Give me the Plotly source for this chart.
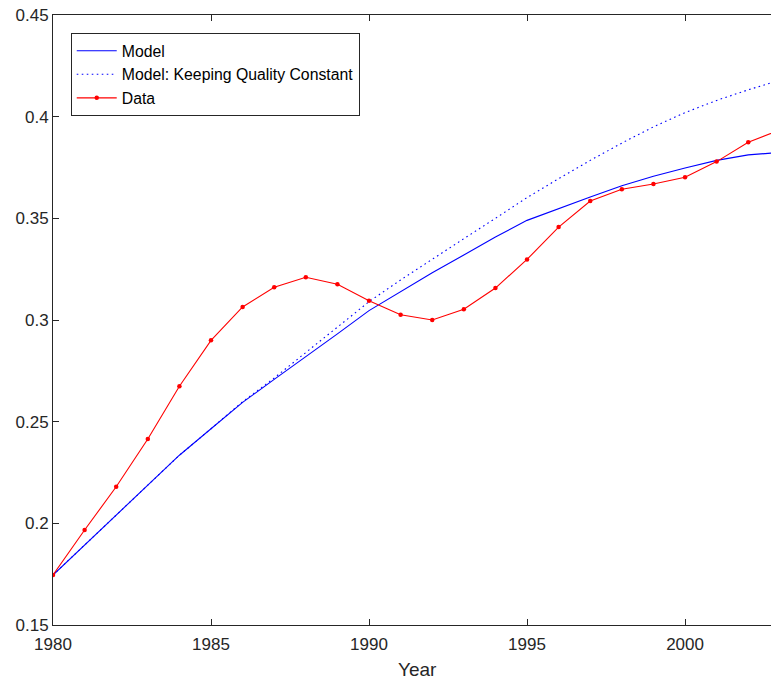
import plotly.graph_objects as go

years = list(range(1980, 2004))

data_vals = [0.1746, 0.1967, 0.2180, 0.2415, 0.2674, 0.2900, 0.3064, 0.3161,
             0.3210, 0.3176, 0.3095, 0.3026, 0.3000, 0.3053, 0.3157, 0.3298,
             0.3457, 0.3585, 0.3643, 0.3669, 0.3702, 0.3779, 0.3874, 0.3935]

model_vals = [0.1746, 0.1892, 0.2040, 0.2187, 0.2335, 0.2465, 0.2595, 0.2708,
              0.2818, 0.2932, 0.3046, 0.3141, 0.3232, 0.3320, 0.3408, 0.3490,
              0.3548, 0.3605, 0.3660, 0.3707, 0.3748, 0.3785, 0.3812, 0.3824]

const_vals = [0.1746, 0.1892, 0.2040, 0.2187, 0.2335, 0.2465, 0.2598, 0.2715,
              0.2840, 0.2966, 0.3090, 0.3197, 0.3300, 0.3400, 0.3500, 0.3602,
              0.3695, 0.3785, 0.3870, 0.3950, 0.4020, 0.4080, 0.4132, 0.4180]

x_ticks = [1980, 1985, 1990, 1995, 2000]
y_ticks = [0.15, 0.2, 0.25, 0.3, 0.35, 0.4, 0.45]
y_tick_text = ["0.15", "0.2", "0.25", "0.3", "0.35", "0.4", "0.45"]

W, H = 771, 680
ML, MT, MB, MR = 53, 15, 55, 0
axis_col = "#262626"
font_fam = "Liberation Sans, Arial, sans-serif"

fig = go.Figure()
fig.add_trace(go.Scatter(x=years, y=model_vals, mode="lines", name="Model",
                         line=dict(color="#0000ff", width=1.1)))
fig.add_trace(go.Scatter(x=years, y=const_vals, mode="lines",
                         name="Model: Keeping Quality Constant",
                         line=dict(color="#0000ff", width=1.1, dash="1.6px,3.4px")))
fig.add_trace(go.Scatter(x=years, y=data_vals, mode="lines+markers", name="Data",
                         line=dict(color="#ff0000", width=1.1),
                         marker=dict(color="#ff0000", size=4.5), cliponaxis=True))

fig.update_layout(
    width=W, height=H,
    margin=dict(l=ML, r=MR, t=MT, b=MB, pad=0, autoexpand=False),
    paper_bgcolor="white", plot_bgcolor="white",
    font=dict(family=font_fam, size=17, color=axis_col),
    showlegend=True,
    legend=dict(x=0.0247, y=0.9705, xanchor="left", yanchor="top",
                bgcolor="white", bordercolor="#262626", borderwidth=1,
                font=dict(family=font_fam, size=15.8, color="#000000"),
                tracegroupgap=0, itemwidth=40),
    xaxis=dict(range=[1980, 2002.72], tickvals=x_ticks,
               ticktext=[str(v) for v in x_ticks], automargin=False,
               showgrid=False, zeroline=False, showline=True, linecolor=axis_col,
               linewidth=1, mirror="ticks", ticks="inside", ticklen=6,
               tickcolor=axis_col, ticklabelstandoff=4, ticklabeloverflow="allow",
               tickfont=dict(size=17, color=axis_col)),
    yaxis=dict(range=[0.15, 0.45], tickvals=y_ticks, ticktext=y_tick_text,
               automargin=False,
               showgrid=False, zeroline=False, showline=True, linecolor=axis_col,
               linewidth=1, ticks="inside", ticklen=6, tickcolor=axis_col,
               ticklabeloverflow="allow",
               tickfont=dict(size=17, color=axis_col)),
    annotations=[dict(text="Year", x=0.508, y=-0.052, xref="paper", yref="paper",
                      xanchor="center", yanchor="top", showarrow=False,
                      font=dict(family=font_fam, size=19, color=axis_col))],
)

fig.write_html("out.html",
               config={"displayModeBar": False},
               post_script="document.body.style.margin='0';"
                           "document.body.style.overflow='hidden';")
